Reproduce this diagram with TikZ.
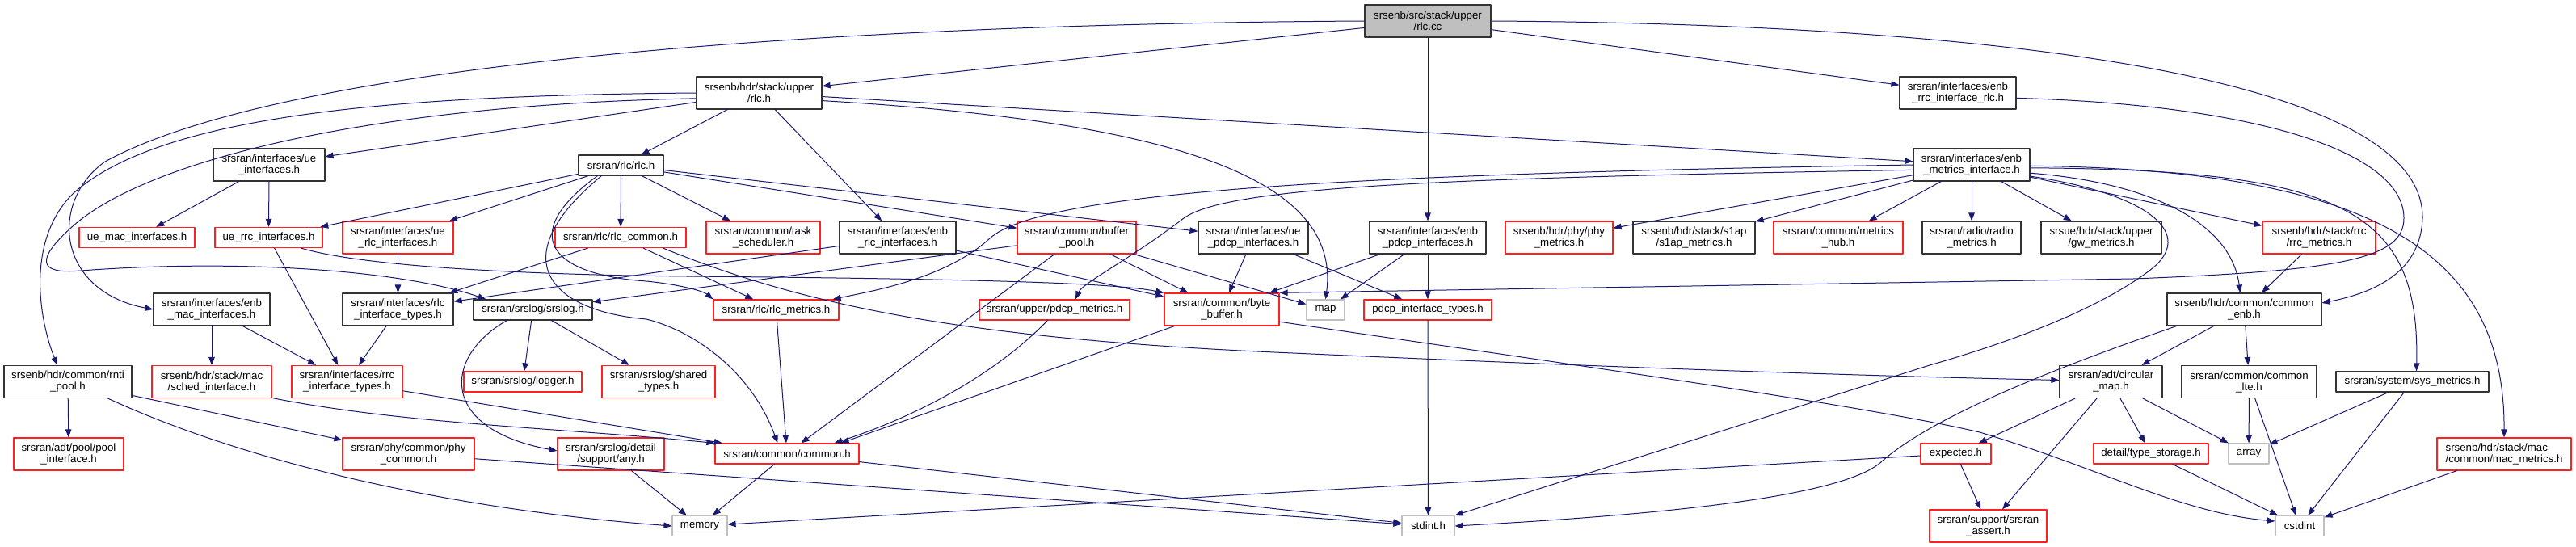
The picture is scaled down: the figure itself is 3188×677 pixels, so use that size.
\documentclass[tikz,border=0pt]{standalone}
\usepackage{fontspec}
\setmainfont{Liberation Sans}
\usetikzlibrary{arrows.meta}
\definecolor{edgeblue}{HTML}{191970}
\definecolor{boxred}{HTML}{FF2020}
\newcommand{\nodefont}{\fontsize{13.3}{14}\selectfont}

\begin{document}
\begin{tikzpicture}[x=1pt,y=-1pt,>={Triangle[length=10pt,width=7.5pt]},line cap=round,line join=round,
  hdr/.style={draw=black!80,line width=1.2pt,fill=white,align=center,inner sep=1pt,font=\nodefont,minimum height=25},
  nodoc/.style={hdr,draw=boxred},
  sysh/.style={hdr,draw=black!25},
  rootnode/.style={hdr,fill=black!25},
  inc/.style={->,draw=edgeblue,line width=1pt}]
\useasboundingbox (0,0) rectangle (3188,677);
% row 0 and 1
\node[rootnode,minimum width=156,minimum height=40] (rootcc) at (1767,26) {srsenb/src/stack/upper\\/rlc.cc};
\node[hdr,minimum width=155,minimum height=40] (uprlc) at (939.5,115) {srsenb/hdr/stack/upper\\/rlc.h};
\node[hdr,minimum width=144,minimum height=40] (enbrrc) at (2423,115) {srsran/interfaces/enb\\\_rrc\_interface\_rlc.h};
% row 2
\node[hdr,minimum width=138,minimum height=40] (ueif) at (333,204) {srsran/interfaces/ue\\\_interfaces.h};
\node[hdr,minimum width=105] (rlch) at (768.5,204.5) {srsran/rlc/rlc.h};
\node[hdr,minimum width=144,minimum height=40] (enbmet) at (2440,204) {srsran/interfaces/enb\\\_metrics\_interface.h};
% row 3
\node[nodoc,minimum width=143] (uemac) at (169.5,294) {ue\_mac\_interfaces.h};
\node[nodoc,minimum width=133] (uerrc) at (332.5,294) {ue\_rrc\_interfaces.h};
\node[nodoc,minimum width=137,minimum height=40] (uerlc) at (492.5,294) {srsran/interfaces/ue\\\_rlc\_interfaces.h};
\node[nodoc,minimum width=162] (rlccom) at (768,294) {srsran/rlc/rlc\_common.h};
\node[nodoc,minimum width=141,minimum height=40] (tasksch) at (944.5,294) {srsran/common/task\\\_scheduler.h};
\node[hdr,minimum width=144,minimum height=40] (enbrlc) at (1111,294) {srsran/interfaces/enb\\\_rlc\_interfaces.h};
\node[nodoc,minimum width=147,minimum height=40] (bufpool) at (1332.5,294) {srsran/common/buffer\\\_pool.h};
\node[hdr,minimum width=136,minimum height=40] (uepdcp) at (1551,294) {srsran/interfaces/ue\\\_pdcp\_interfaces.h};
\node[hdr,minimum width=144,minimum height=40] (enbpdcp) at (1767,294) {srsran/interfaces/enb\\\_pdcp\_interfaces.h};
\node[nodoc,minimum width=133,minimum height=40] (phymet) at (1929.5,294) {srsenb/hdr/phy/phy\\\_metrics.h};
\node[hdr,minimum width=151,minimum height=40] (s1apmet) at (2096.5,294) {srsenb/hdr/stack/s1ap\\/s1ap\_metrics.h};
\node[nodoc,minimum width=160,minimum height=40] (mhub) at (2275,294) {srsran/common/metrics\\\_hub.h};
\node[hdr,minimum width=122,minimum height=40] (radmet) at (2440,294) {srsran/radio/radio\\\_metrics.h};
\node[hdr,minimum width=149,minimum height=40] (gwmet) at (2600.5,294) {srsue/hdr/stack/upper\\/gw\_metrics.h};
\node[nodoc,minimum width=140,minimum height=40] (rrcmet) at (2870,294) {srsenb/hdr/stack/rrc\\/rrc\_metrics.h};
% row 4
\node[hdr,minimum width=144,minimum height=40] (enbmac) at (262,383) {srsran/interfaces/enb\\\_mac\_interfaces.h};
\node[hdr,minimum width=137,minimum height=40] (rlctypes) at (492.5,383) {srsran/interfaces/rlc\\\_interface\_types.h};
\node[hdr,minimum width=147] (srslog) at (659.5,383.5) {srsran/srslog/srslog.h};
\node[nodoc,minimum width=155] (rlcmet) at (960.5,383.5) {srsran/rlc/rlc\_metrics.h};
\node[nodoc,minimum width=186] (pdcpmet) at (1305,383.5) {srsran/upper/pdcp\_metrics.h};
\node[nodoc,minimum width=142,minimum height=40] (bytebuf) at (1512,383) {srsran/common/byte\\\_buffer.h};
\node[sysh,minimum width=47] (map) at (1640.5,383.5) {map};
\node[nodoc,minimum width=158] (pdcptypes) at (1767,383.5) {pdcp\_interface\_types.h};
\node[hdr,minimum width=191,minimum height=40] (comenb) at (2777.5,383) {srsenb/hdr/common/common\\\_enb.h};
% row 5
\node[hdr,minimum width=158,minimum height=40] (rnti) at (84,472.5) {srsenb/hdr/common/rnti\\\_pool.h};
\node[nodoc,minimum width=148,minimum height=40] (sched) at (262,472.5) {srsenb/hdr/stack/mac\\/sched\_interface.h};
\node[nodoc,minimum width=137,minimum height=40] (rrctypes) at (429.5,472.5) {srsran/interfaces/rrc\\\_interface\_types.h};
\node[nodoc,minimum width=146] (logger) at (647,472.5) {srsran/srslog/logger.h};
\node[nodoc,minimum width=140,minimum height=40] (shtypes) at (815,472.5) {srsran/srslog/shared\\\_types.h};
\node[hdr,minimum width=127,minimum height=40] (circmap) at (2612.5,472.5) {srsran/adt/circular\\\_map.h};
\node[hdr,minimum width=167,minimum height=40] (comlte) at (2783.5,472.5) {srsran/common/common\\\_lte.h};
\node[hdr,minimum width=189] (sysmet) at (2985.5,472.5) {srsran/system/sys\_metrics.h};
% row 6
\node[nodoc,minimum width=136,minimum height=40] (poolif) at (85,562) {srsran/adt/pool/pool\\\_interface.h};
\node[nodoc,minimum width=163,minimum height=40] (phycom) at (505.5,562) {srsran/phy/common/phy\\\_common.h};
\node[nodoc,minimum width=132,minimum height=40] (anyh) at (756,562) {srsran/srslog/detail\\/support/any.h};
\node[nodoc,minimum width=178] (commonh) at (974,561.5) {srsran/common/common.h};
\node[nodoc,minimum width=87] (expected) at (2420.5,561.5) {expected.h};
\node[nodoc,minimum width=142] (typest) at (2662,561.5) {detail/type\_storage.h};
\node[sysh,minimum width=50] (array) at (2783,561.5) {array};
\node[nodoc,minimum width=166,minimum height=40,align=left] (macmet) at (3099,562) {srsenb/hdr/stack/mac\\/common/mac\_metrics.h};
% row 7
\node[sysh,minimum width=68] (memory) at (866,651) {memory};
\node[sysh,minimum width=65] (stdint) at (1767.5,651) {stdint.h};
\node[nodoc,minimum width=145,minimum height=40] (assert) at (2460.5,651) {srsran/support/srsran\\\_assert.h};
\node[sysh,minimum width=60] (cstdint) at (2846,651) {cstdint};
% includes of rlc.cc
\draw[inc] (rootcc) -- (uprlc);
\draw[inc] (rootcc) -- (enbrrc);
\draw[inc] (rootcc) -- (enbpdcp);
\draw[inc] (rootcc.east) .. controls (2500,30) and (3000,100) .. (2998,270) .. controls (2996,330) and (2950,360) .. ([yshift=8pt]comenb.east);
\draw[inc] (rootcc.west) .. controls (1000,30) and (350,80) .. (130,200) .. controls (60,250) and (70,360) .. (enbmac.west);
% includes of upper/rlc.h
\draw[inc] (uprlc) -- (rlch);
\draw[inc] (uprlc) -- (enbrlc);
\draw[inc] (uprlc) -- (enbmet);
\draw[inc] (uprlc) -- (ueif);
\draw[inc] (uprlc.353) .. controls (1450,150) and (1660,220) .. (map.north);
\draw[inc] (uprlc.west) .. controls (500,118) and (200,140) .. (90,240) .. controls (30,300) and (50,400) .. ([xshift=-13pt]rnti.north);
\draw[inc] (uprlc.185) .. controls (450,130) and (180,200) .. (90,280) .. controls (45,320) and (45,340) .. (100,335) .. controls (300,320) and (500,335) .. ([xshift=16pt]srslog.north west);
\draw[inc] (enbrrc.355) .. controls (2800,130) and (2975,190) .. (2975,270) .. controls (2975,320) and (2900,335) .. (2640,345) -- (bytebuf.north east);
% interfaces
\draw[inc] (ueif) -- (uemac);
\draw[inc] (ueif) -- (uerrc);
\draw[inc] (rlch) -- (uerrc);
\draw[inc] (rlch) -- (uerlc);
\draw[inc] (rlch) -- (rlccom);
\draw[inc] (rlch) -- (tasksch);
\draw[inc] (rlch) -- (bufpool);
\draw[inc] (rlch) -- (uepdcp);
\draw[inc] ([xshift=24pt]rlch.south west) .. controls (640,290) and (680,340) .. (800,348) .. controls (840,352) and (870,360) .. (rlcmet.north west);
\draw[inc] ([xshift=29pt]rlch.south west) .. controls (620,320) and (680,385) .. (800,395) .. controls (860,410) and (930,460) .. ([xshift=78pt]commonh.north west);
\draw[inc] (rlccom) -- (rlctypes);
\draw[inc] (rlccom) -- (rlcmet);
\draw[inc] ([xshift=-29pt]rlccom.south east) .. controls (1000,380) and (1200,420) .. (1600,437) .. controls (2000,455) and (2300,465) .. ([yshift=2pt]circmap.west);
\draw[inc] (uerrc) -- (rrctypes);
\draw[inc] ([xshift=-27pt]uerrc.south east) .. controls (450,330) and (650,340) .. (850,342) .. controls (1200,345) and (1380,350) .. (bytebuf.north west);
\draw[inc] (uerlc) -- (rlctypes);
\draw[inc] (enbrlc) -- (rlctypes);
\draw[inc] (enbrlc) -- (bytebuf);
\draw[inc] (bufpool) -- (srslog);
\draw[inc] (bufpool) -- (commonh);
\draw[inc] (bufpool) -- (bytebuf);
\draw[inc] (bufpool) -- (map);
\draw[inc] (uepdcp) -- (bytebuf);
\draw[inc] (uepdcp) -- (pdcptypes);
\draw[inc] (enbpdcp) -- (bytebuf);
\draw[inc] (enbpdcp) -- (map);
\draw[inc] (enbpdcp) -- (pdcptypes);
% metrics
\draw[inc] (enbmet) -- (phymet);
\draw[inc] (enbmet) -- (s1apmet);
\draw[inc] (enbmet) -- (mhub);
\draw[inc] (enbmet) -- (radmet);
\draw[inc] (enbmet) -- (gwmet);
\draw[inc] (enbmet) -- (rrcmet);
\draw[inc] (enbmet.352) .. controls (2650,225) and (2760,270) .. ([xshift=-5pt]comenb.north);
\draw[inc] (enbmet.357) .. controls (2900,210) and (2995,260) .. ([xshift=5pt]sysmet.north);
\draw[inc] (enbmet.359) .. controls (2950,210) and (3100,320) .. (macmet.north);
\draw[inc] (enbmet.349) .. controls (2660,240) and (2720,290) .. (2660,335) .. controls (2600,380) and (2500,420) .. (2388,452) -- (stdint.north east);
\draw[inc] (enbmet.west) .. controls (1700,215) and (1290,235) .. (1225,295) .. controls (1170,345) and (1080,360) .. ([xshift=-8pt]rlcmet.north east);
\draw[inc] (enbmet.185) .. controls (1800,220) and (1520,230) .. (1465,270) .. controls (1400,320) and (1340,350) .. ([xshift=26pt]pdcpmet.north);
\draw[inc] (rrcmet) -- (comenb);
% lower part
\draw[inc] (comenb) -- (circmap);
\draw[inc] (comenb) -- (comlte);
\draw[inc] ([xshift=12pt]comenb.south west) .. controls (2560,450) and (2400,510) .. (2330,570) .. controls (2280,620) and (2000,640) .. (stdint.east);
\draw[inc] (enbmac) -- (sched);
\draw[inc] (enbmac) -- (rrctypes);
\draw[inc] (rlctypes) -- (rrctypes);
\draw[inc] (srslog) -- (logger);
\draw[inc] (srslog) -- (shtypes);
\draw[inc] ([xshift=42pt]srslog.south west) .. controls (550,440) and (540,530) .. ([yshift=4pt]anyh.west);
\draw[inc] (rlcmet) -- (commonh);
\draw[inc] ([xshift=85pt]pdcpmet.south west) .. controls (1240,455) and (1150,510) .. ([xshift=-31pt]commonh.north east);
\draw[inc] (bytebuf) -- ([xshift=-23pt]commonh.north east);
\draw[inc] (bytebuf.348) .. controls (1900,445) and (2300,500) .. (2450,535) .. controls (2600,580) and (2700,635) .. ([yshift=6pt]cstdint.west);
\draw[inc] (pdcptypes) -- (stdint);
\draw[inc] (rnti) -- (poolif);
\draw[inc] (rnti) -- (phycom);
\draw[inc] ([xshift=-30pt]rnti.south east) .. controls (300,570) and (550,630) .. (memory.west);
\draw[inc] (sched.345) .. controls (500,525) and (700,530) .. (commonh.north west);
\draw[inc] (rrctypes) -- (commonh);
\draw[inc] (phycom) -- (stdint);
\draw[inc] (anyh) -- (memory);
\draw[inc] (commonh) -- (memory);
\draw[inc] (commonh) -- (stdint);
\draw[inc] (circmap) -- (expected);
\draw[inc] (circmap) -- (assert);
\draw[inc] (circmap) -- (typest);
\draw[inc] (circmap) -- (array);
\draw[inc] (expected) -- (assert);
\draw[inc] (expected) -- (memory);
\draw[inc] (typest) -- (cstdint);
\draw[inc] (comlte) -- (array);
\draw[inc] (comlte) -- (cstdint);
\draw[inc] (sysmet) -- (array);
\draw[inc] (sysmet) -- (cstdint);
\draw[inc] (macmet) -- (cstdint);
\end{tikzpicture}
\end{document}
